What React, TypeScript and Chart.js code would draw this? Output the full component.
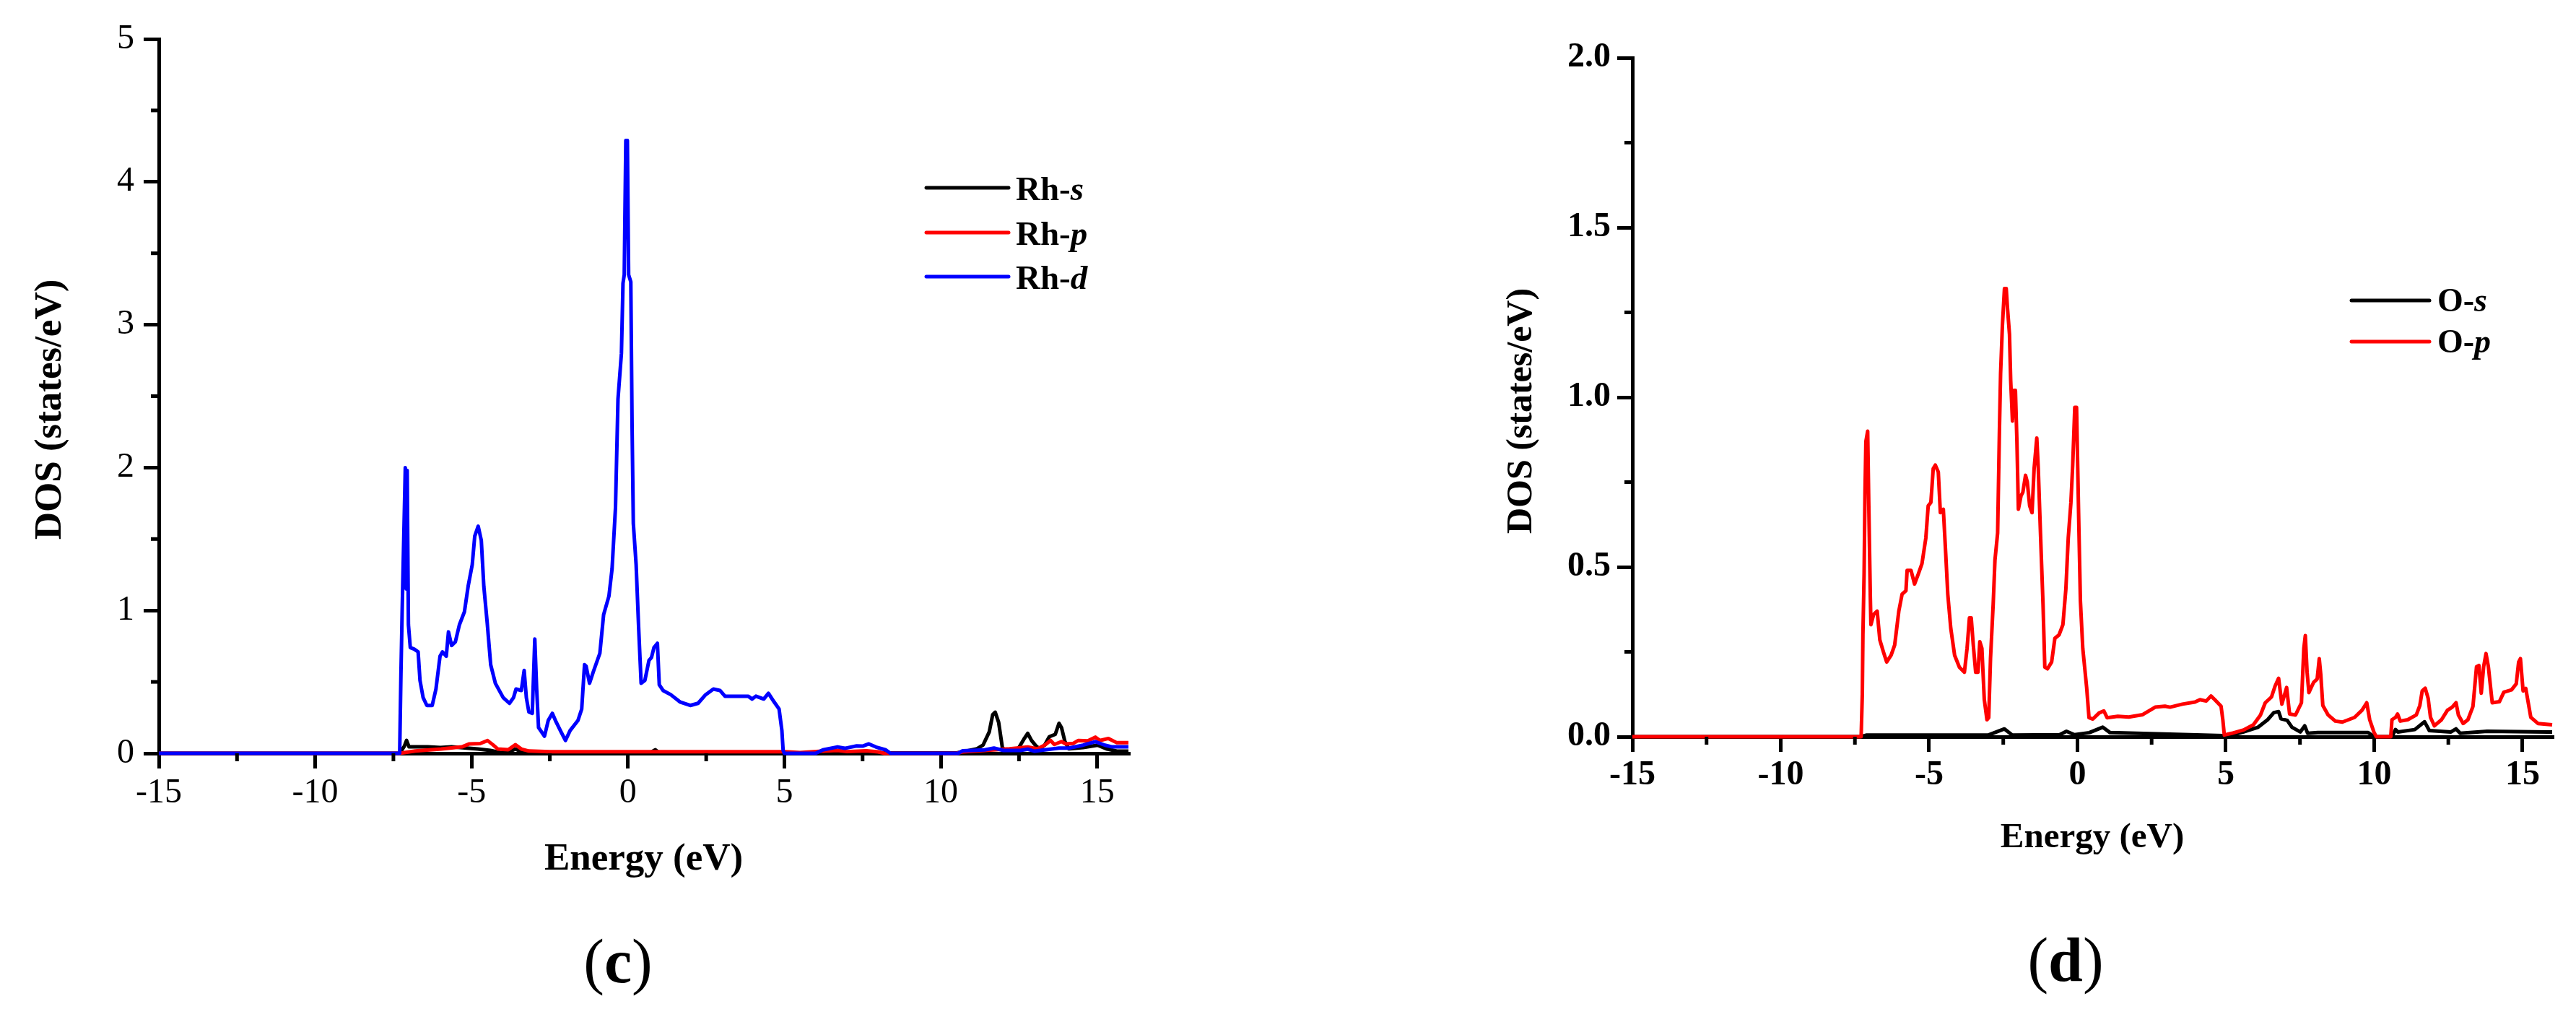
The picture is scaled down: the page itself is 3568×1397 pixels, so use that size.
import React, { useEffect, useRef } from "react";
import { Chart, registerables } from "chart.js";

Chart.register(...registerables);

const FONT = '"Liberation Serif", "Times New Roman", Times, serif';

// ---------- Axis ticks ----------
const energyTicks = [-15, -10, -5, 0, 5, 10, 15];
const energyMinorTicks = [-12.5, -7.5, -2.5, 2.5, 7.5, 12.5];
const rhDosTicks = [0, 1, 2, 3, 4, 5];
const rhDosMinorTicks = [0.5, 1.5, 2.5, 3.5, 4.5];
const oDosTicks = [0, 0.5, 1, 1.5, 2];
const oDosMinorTicks = [0.25, 0.75, 1.25, 1.75];

// ---------- Series names / colours ----------
const rhSeriesNames = ["Rh-s", "Rh-p", "Rh-d"];
const rhSeriesColors = ["#000000", "#FF0000", "#0000FF"];
const oSeriesNames = ["O-s", "O-p"];
const oSeriesColors = ["#000000", "#FF0000"];

// ---------- Data: [energy (eV), DOS (states/eV)] ----------
const rhS: [number, number][] = [
  [-15, 0], [-7.3, 0], [-7.15, 0.05], [-7.08, 0.09], [-7.0, 0.045], [-6.4, 0.045], [-6.0, 0.04],
  [-5.64, 0.045], [-5.15, 0.037], [-4.8, 0.03], [-4.4, 0.02], [-4.07, 0.005], [-3.8, 0.01], [-3.6, 0.03],
  [-3.4, 0.01], [-3.2, 0.003], [0.7, 0.003], [0.87, 0.025], [1.0, 0.003], [10.5, 0.003], [10.7, 0.01],
  [11.16, 0.032], [11.35, 0.057], [11.55, 0.15], [11.66, 0.27], [11.74, 0.288], [11.85, 0.217], [11.97, 0.04],
  [12.08, 0.015], [12.47, 0.03], [12.66, 0.1], [12.78, 0.14], [12.9, 0.09], [13.05, 0.05], [13.16, 0.032],
  [13.32, 0.057], [13.47, 0.116], [13.66, 0.133], [13.78, 0.21], [13.86, 0.18], [13.97, 0.082], [14.09, 0.032],
  [14.55, 0.04], [15.01, 0.057], [15.32, 0.03], [15.63, 0.015], [16, 0.015],
];

const rhP: [number, number][] = [
  [-15, 0], [-7.3, 0], [-6.8, 0.016], [-5.97, 0.03], [-5.31, 0.045], [-5.07, 0.066], [-4.73, 0.068],
  [-4.49, 0.089], [-4.32, 0.06], [-4.16, 0.03], [-3.83, 0.025], [-3.6, 0.06], [-3.41, 0.03], [-3.17, 0.016],
  [-2.5, 0.012], [5.0, 0.012], [5.5, 0.005], [6.2, 0.015], [6.7, 0.02], [7.0, 0.012], [7.62, 0.018],
  [8.0, 0.01], [8.2, 0], [10.5, 0], [10.7, 0.01], [12.2, 0.032], [12.78, 0.044], [13.09, 0.032],
  [13.32, 0.057], [13.51, 0.09], [13.63, 0.062], [13.86, 0.082], [14.0, 0.066], [14.24, 0.07], [14.4, 0.09],
  [14.7, 0.087], [14.94, 0.113], [15.09, 0.09], [15.36, 0.104], [15.63, 0.074], [16, 0.074],
];

const rhD: [number, number][] = [
  [-15, 0], [-7.3, 0], [-7.26, 0.55], [-7.22, 1.0], [-7.17, 1.5], [-7.12, 2.0], [-7.09, 1.15], [-7.06, 1.98],
  [-7.02, 0.9], [-6.96, 0.74], [-6.84, 0.73], [-6.71, 0.71], [-6.65, 0.51], [-6.55, 0.39], [-6.43, 0.335],
  [-6.26, 0.335], [-6.14, 0.45], [-6.01, 0.68], [-5.93, 0.71], [-5.81, 0.68], [-5.74, 0.85], [-5.64, 0.755],
  [-5.52, 0.78], [-5.39, 0.9], [-5.23, 0.99], [-5.11, 1.17], [-4.98, 1.32], [-4.9, 1.52], [-4.79, 1.59],
  [-4.69, 1.49], [-4.61, 1.17], [-4.5, 0.91], [-4.39, 0.62], [-4.24, 0.49], [-3.99, 0.39], [-3.79, 0.35],
  [-3.66, 0.39], [-3.58, 0.45], [-3.41, 0.44], [-3.32, 0.58], [-3.25, 0.39], [-3.17, 0.29], [-3.06, 0.28],
  [-2.98, 0.8], [-2.92, 0.45], [-2.86, 0.18], [-2.67, 0.12], [-2.55, 0.23], [-2.42, 0.28], [-2.3, 0.22],
  [-2.14, 0.15], [-2.0, 0.09], [-1.85, 0.16], [-1.6, 0.23], [-1.48, 0.31], [-1.39, 0.62], [-1.34, 0.61],
  [-1.23, 0.49], [-1.11, 0.57], [-0.9, 0.7], [-0.78, 0.97], [-0.61, 1.1], [-0.51, 1.29], [-0.4, 1.72],
  [-0.32, 2.48], [-0.21, 2.8], [-0.16, 3.29], [-0.12, 3.35], [-0.07, 4.29], [-0.02, 4.29], [0.02, 3.35],
  [0.09, 3.3], [0.13, 2.3], [0.17, 1.61], [0.26, 1.32], [0.34, 0.88], [0.42, 0.49], [0.54, 0.51],
  [0.67, 0.65], [0.75, 0.67], [0.83, 0.74], [0.94, 0.77], [1.0, 0.48], [1.12, 0.44], [1.37, 0.41],
  [1.66, 0.36], [1.99, 0.335], [2.24, 0.35], [2.48, 0.41], [2.73, 0.45], [2.94, 0.44], [3.1, 0.4],
  [3.51, 0.4], [3.84, 0.4], [3.97, 0.38], [4.09, 0.4], [4.34, 0.38], [4.49, 0.42], [4.67, 0.36],
  [4.83, 0.31], [4.92, 0.16], [4.96, 0.02], [5.0, 0], [6.0, 0], [6.23, 0.024], [6.7, 0.045], [6.93, 0.035],
  [7.31, 0.052], [7.5, 0.05], [7.7, 0.066], [7.93, 0.044], [8.24, 0.024], [8.39, 0], [10.55, 0],
  [10.7, 0.018], [11.4, 0.024], [11.7, 0.037], [12.0, 0.02], [12.55, 0.02], [12.78, 0.029], [13.0, 0.015],
  [13.32, 0.024], [13.78, 0.037], [14.1, 0.037], [14.55, 0.057], [14.94, 0.082], [15.25, 0.057],
  [15.48, 0.045], [16, 0.045],
];

const oS: [number, number][] = [
  [-15, 0], [-7.3, 0], [-7.1, 0.005], [-3.0, 0.005], [-2.46, 0.023], [-2.2, 0.005], [-0.6, 0.006],
  [-0.37, 0.016], [-0.1, 0.006], [0.4, 0.012], [0.85, 0.028], [1.1, 0.012], [2.0, 0.01], [4.9, 0.003],
  [5.0, 0], [5.6, 0.014], [6.09, 0.028], [6.41, 0.05], [6.62, 0.071], [6.78, 0.074], [6.86, 0.053],
  [7.07, 0.048], [7.23, 0.028], [7.51, 0.014], [7.66, 0.032], [7.76, 0.01], [8.1, 0.012], [9.8, 0.012],
  [10.0, 0], [10.6, 0], [10.72, 0.021], [10.8, 0.014], [11.37, 0.021], [11.7, 0.044], [11.86, 0.018],
  [12.59, 0.014], [12.76, 0.023], [12.9, 0.01], [13.81, 0.016], [15.85, 0.014], [16, 0.014],
];

const oP: [number, number][] = [
  [-15, 0], [-7.29, 0], [-7.25, 0.127], [-7.23, 0.3], [-7.19, 0.48], [-7.16, 0.72], [-7.13, 0.87],
  [-7.07, 0.9], [-7.03, 0.67], [-6.98, 0.41], [-6.96, 0.33], [-6.87, 0.36], [-6.75, 0.37], [-6.66, 0.285],
  [-6.54, 0.25], [-6.43, 0.22], [-6.28, 0.24], [-6.16, 0.27], [-6.02, 0.37], [-5.91, 0.42], [-5.78, 0.43],
  [-5.74, 0.49], [-5.61, 0.49], [-5.49, 0.45], [-5.36, 0.48], [-5.24, 0.51], [-5.11, 0.585], [-5.03, 0.68],
  [-4.94, 0.69], [-4.86, 0.79], [-4.79, 0.8], [-4.69, 0.78], [-4.62, 0.66], [-4.52, 0.67], [-4.44, 0.54],
  [-4.37, 0.42], [-4.27, 0.32], [-4.14, 0.24], [-3.98, 0.205], [-3.81, 0.19], [-3.72, 0.26], [-3.64, 0.35],
  [-3.58, 0.35], [-3.51, 0.27], [-3.43, 0.19], [-3.35, 0.19], [-3.29, 0.28], [-3.22, 0.26], [-3.14, 0.11],
  [-3.05, 0.05], [-2.99, 0.056], [-2.93, 0.23], [-2.84, 0.39], [-2.78, 0.52], [-2.69, 0.6], [-2.63, 0.9],
  [-2.59, 1.07], [-2.53, 1.21], [-2.46, 1.32], [-2.4, 1.32], [-2.36, 1.265], [-2.29, 1.185], [-2.25, 1.05],
  [-2.19, 0.93], [-2.15, 1.02], [-2.09, 1.02], [-2.04, 0.87], [-1.99, 0.67], [-1.9, 0.71], [-1.84, 0.72],
  [-1.75, 0.77], [-1.69, 0.75], [-1.61, 0.68], [-1.53, 0.66], [-1.46, 0.79], [-1.37, 0.88], [-1.32, 0.79],
  [-1.25, 0.61], [-1.16, 0.39], [-1.1, 0.205], [-1.01, 0.2], [-0.87, 0.22], [-0.76, 0.29], [-0.62, 0.3],
  [-0.49, 0.33], [-0.39, 0.435], [-0.31, 0.585], [-0.22, 0.69], [-0.16, 0.8], [-0.09, 0.97], [-0.03, 0.97],
  [0.01, 0.79], [0.05, 0.61], [0.1, 0.4], [0.18, 0.26], [0.31, 0.145], [0.39, 0.056], [0.52, 0.052],
  [0.73, 0.07], [0.89, 0.076], [1.0, 0.056], [1.36, 0.06], [1.73, 0.058], [2.2, 0.065], [2.62, 0.087],
  [2.95, 0.09], [3.12, 0.087], [3.54, 0.096], [3.96, 0.102], [4.13, 0.109], [4.34, 0.105], [4.5, 0.12],
  [4.63, 0.109], [4.84, 0.09], [4.9, 0.05], [4.95, 0.005], [5.2, 0.01], [5.6, 0.02], [5.93, 0.035],
  [6.17, 0.064], [6.33, 0.1], [6.54, 0.117], [6.66, 0.149], [6.78, 0.172], [6.89, 0.096], [7.05, 0.145],
  [7.15, 0.067], [7.35, 0.064], [7.55, 0.1], [7.63, 0.26], [7.68, 0.298], [7.74, 0.19], [7.8, 0.13],
  [7.96, 0.16], [8.08, 0.17], [8.15, 0.23], [8.2, 0.184], [8.27, 0.092], [8.45, 0.064], [8.69, 0.046],
  [8.93, 0.043], [9.34, 0.057], [9.59, 0.078], [9.75, 0.1], [9.85, 0.05], [9.99, 0.014], [10.07, 0],
  [10.56, 0], [10.6, 0.05], [10.72, 0.057], [10.79, 0.067], [10.88, 0.046], [11.13, 0.05], [11.42, 0.064],
  [11.54, 0.092], [11.62, 0.135], [11.72, 0.143], [11.82, 0.113], [11.9, 0.057], [12.03, 0.032],
  [12.27, 0.05], [12.47, 0.078], [12.63, 0.087], [12.76, 0.1], [12.84, 0.064], [13.0, 0.039], [13.16, 0.05],
  [13.33, 0.089], [13.45, 0.206], [13.53, 0.21], [13.61, 0.128], [13.69, 0.206], [13.77, 0.245],
  [13.85, 0.206], [13.98, 0.1], [14.22, 0.103], [14.37, 0.131], [14.63, 0.138], [14.79, 0.156],
  [14.87, 0.22], [14.93, 0.23], [15.02, 0.135], [15.11, 0.142], [15.28, 0.057], [15.52, 0.039], [16.0, 0.035],
];

// ---------- Styling constants ----------
const AXIS_W = 5;
const LINE_W = 5;
const MAJOR_LEN = 21;
const MINOR_LEN = 11;

type PanelSpec = {
  left: number;
  width: number;
  height: number;
  series: [number, number][][];
  names: string[];
  colors: string[];
  orders: number[];
  yMax: number;
  yTicks: number[];
  yMinor: number[];
  yFmt: (v: number) => string;
  tickWeight: "normal" | "bold";
  pad: { top: number; right: number };
  yAxisWidth: number;
  xAxisHeight: number;
  xTickPad: number;
  yTickPad: number;
  xTitleSize: number;
  xTitlePadBottom: number;
  yTitleX: number;
  yTitleY: number;
  yTitleSize: number;
  legend: { x1: number; x2: number; xText: number; ys: number[]; size: number; baseOff: number };
  panel: { letter: string; cx: number; baseline: number; size: number };
};

function makeDecorPlugin(p: PanelSpec) {
  return {
    id: "decor",
    afterDraw(chart: any) {
      const ctx = chart.ctx as CanvasRenderingContext2D;
      const area = chart.chartArea;
      const xs = chart.scales.x;
      const ys = chart.scales.y;
      ctx.save();
      // minor ticks
      ctx.strokeStyle = "#000";
      ctx.lineWidth = AXIS_W;
      ctx.lineCap = "butt";
      energyMinorTicks.forEach((v) => {
        const px = xs.getPixelForValue(v);
        ctx.beginPath();
        ctx.moveTo(px, area.bottom);
        ctx.lineTo(px, area.bottom + MINOR_LEN);
        ctx.stroke();
      });
      p.yMinor.forEach((v) => {
        const py = ys.getPixelForValue(v);
        ctx.beginPath();
        ctx.moveTo(area.left, py);
        ctx.lineTo(area.left - MINOR_LEN, py);
        ctx.stroke();
      });
      // y-axis title
      ctx.fillStyle = "#000";
      ctx.save();
      ctx.translate(p.yTitleX, p.yTitleY);
      ctx.rotate(-Math.PI / 2);
      ctx.font = `bold ${p.yTitleSize}px ${FONT}`;
      ctx.textAlign = "center";
      ctx.textBaseline = "alphabetic";
      ctx.fillText("DOS (states/eV)", 0, 0);
      ctx.restore();
      // legend
      const L = p.legend;
      p.names.forEach((name, i) => {
        const y = L.ys[i];
        ctx.strokeStyle = p.colors[i];
        ctx.lineWidth = LINE_W;
        ctx.lineCap = "round";
        ctx.beginPath();
        ctx.moveTo(L.x1, y);
        ctx.lineTo(L.x2, y);
        ctx.stroke();
        const dash = name.indexOf("-");
        const prefix = name.slice(0, dash + 1);
        const orb = name.slice(dash + 1);
        ctx.fillStyle = "#000";
        ctx.textAlign = "left";
        ctx.textBaseline = "alphabetic";
        ctx.font = `bold ${L.size}px ${FONT}`;
        ctx.fillText(prefix, L.xText, y + L.baseOff);
        const w = ctx.measureText(prefix).width;
        ctx.font = `italic bold ${L.size}px ${FONT}`;
        ctx.fillText(orb, L.xText + w, y + L.baseOff);
      });
      // panel label
      const P = p.panel;
      ctx.fillStyle = "#000";
      ctx.textAlign = "left";
      ctx.textBaseline = "alphabetic";
      ctx.font = `${P.size}px ${FONT}`;
      const wp = ctx.measureText("(").width;
      const wq = ctx.measureText(")").width;
      ctx.font = `bold ${P.size}px ${FONT}`;
      const wl = ctx.measureText(P.letter).width;
      const total = wp + wl + wq;
      let x = P.cx - total / 2;
      ctx.font = `${P.size}px ${FONT}`;
      ctx.fillText("(", x, P.baseline);
      x += wp;
      ctx.font = `bold ${P.size}px ${FONT}`;
      ctx.fillText(P.letter, x, P.baseline);
      x += wl;
      ctx.font = `${P.size}px ${FONT}`;
      ctx.fillText(")", x, P.baseline);
      ctx.restore();
    },
  };
}

function buildConfig(p: PanelSpec): any {
  const datasets = p.series.map((pairs, i) => ({
    label: p.names[i],
    data: pairs.map(([x, y]) => ({ x, y })),
    borderColor: p.colors[i],
    backgroundColor: p.colors[i],
    borderWidth: LINE_W,
    borderJoinStyle: "round",
    pointRadius: 0,
    showLine: true,
    fill: false,
    tension: 0,
    clip: false,
    order: p.orders[i],
  }));
  const gridOpts = {
    display: true,
    drawOnChartArea: false,
    drawTicks: true,
    tickLength: MAJOR_LEN,
    tickWidth: AXIS_W,
    tickColor: "#000",
    lineWidth: AXIS_W,
    color: "#000",
  };
  return {
    type: "scatter",
    data: { datasets },
    plugins: [makeDecorPlugin(p)],
    options: {
      animation: false,
      responsive: false,
      devicePixelRatio: 1,
      events: [],
      layout: { padding: { left: 0, top: p.pad.top, right: p.pad.right, bottom: 0 } },
      plugins: {
        legend: { display: false },
        tooltip: { enabled: false },
        title: { display: false },
      },
      scales: {
        x: {
          type: "linear",
          position: "bottom",
          min: -15,
          max: 16,
          afterBuildTicks: (s: any) => {
            s.ticks = energyTicks.map((v) => ({ value: v }));
          },
          afterFit: (s: any) => {
            s.height = p.xAxisHeight;
          },
          ticks: {
            autoSkip: false,
            maxRotation: 0,
            minRotation: 0,
            padding: p.xTickPad,
            color: "#000",
            font: { family: FONT, size: 48, weight: p.tickWeight },
            callback: (v: number) => String(v),
          },
          grid: gridOpts,
          border: { display: true, color: "#000", width: AXIS_W },
          title: {
            display: true,
            text: "Energy (eV)",
            color: "#000",
            font: { family: FONT, size: p.xTitleSize, weight: "bold" },
            padding: { top: 0, bottom: p.xTitlePadBottom },
          },
        },
        y: {
          type: "linear",
          position: "left",
          min: 0,
          max: p.yMax,
          afterBuildTicks: (s: any) => {
            s.ticks = p.yTicks.map((v) => ({ value: v }));
          },
          afterFit: (s: any) => {
            s.width = p.yAxisWidth;
          },
          ticks: {
            autoSkip: false,
            padding: p.yTickPad,
            color: "#000",
            font: { family: FONT, size: 48, weight: p.tickWeight },
            callback: (v: number) => p.yFmt(v),
          },
          grid: gridOpts,
          border: { display: true, color: "#000", width: AXIS_W },
          title: { display: false },
        },
      },
    },
  };
}

const leftPanel: PanelSpec = {
  left: 0,
  width: 1660,
  height: 1397,
  series: [rhS, rhP, rhD],
  names: rhSeriesNames,
  colors: rhSeriesColors,
  orders: [2, 1, 0],
  yMax: 5,
  yTicks: rhDosTicks,
  yMinor: rhDosMinorTicks,
  yFmt: (v) => String(v),
  tickWeight: "normal",
  pad: { top: 54, right: 97 },
  yAxisWidth: 220,
  xAxisHeight: 354,
  xTickPad: 6,
  yTickPad: 13,
  xTitleSize: 53,
  xTitlePadBottom: 175,
  yTitleX: 84,
  yTitleY: 567,
  yTitleSize: 53,
  legend: { x1: 1283, x2: 1397, xText: 1407, ys: [260, 322, 383], size: 47, baseOff: 16.5 },
  panel: { letter: "c", cx: 856, baseline: 1360, size: 86 },
};

const rightPanel: PanelSpec = {
  left: 1900,
  width: 1668,
  height: 1397,
  series: [oS, oP],
  names: oSeriesNames,
  colors: oSeriesColors,
  orders: [1, 0],
  yMax: 2,
  yTicks: oDosTicks,
  yMinor: oDosMinorTicks,
  yFmt: (v) => v.toFixed(1),
  tickWeight: "bold",
  pad: { top: 80, right: 33 },
  yAxisWidth: 361,
  xAxisHeight: 377,
  xTickPad: 4,
  yTickPad: 9,
  xTitleSize: 49,
  xTitlePadBottom: 207.6,
  yTitleX: 221,
  yTitleY: 569,
  yTitleSize: 50,
  legend: { x1: 1357, x2: 1465, xText: 1476, ys: [416, 473], size: 46, baseOff: 15 },
  panel: { letter: "d", cx: 961, baseline: 1358, size: 86 },
};

function DosPanel({ spec }: { spec: PanelSpec }) {
  const ref = useRef<HTMLCanvasElement | null>(null);
  useEffect(() => {
    if (!ref.current) return;
    const chart = new Chart(ref.current, buildConfig(spec));
    return () => chart.destroy();
  }, [spec]);
  return (
    <canvas
      ref={ref}
      width={spec.width}
      height={spec.height}
      style={{
        position: "absolute",
        left: spec.left,
        top: 0,
        width: spec.width,
        height: spec.height,
        display: "block",
      }}
    />
  );
}

export default function App() {
  return (
    <div
      style={{
        position: "fixed",
        left: 0,
        top: 0,
        width: 3568,
        height: 1397,
        background: "#ffffff",
        overflow: "hidden",
      }}
    >
      <DosPanel spec={leftPanel} />
      <DosPanel spec={rightPanel} />
    </div>
  );
}
